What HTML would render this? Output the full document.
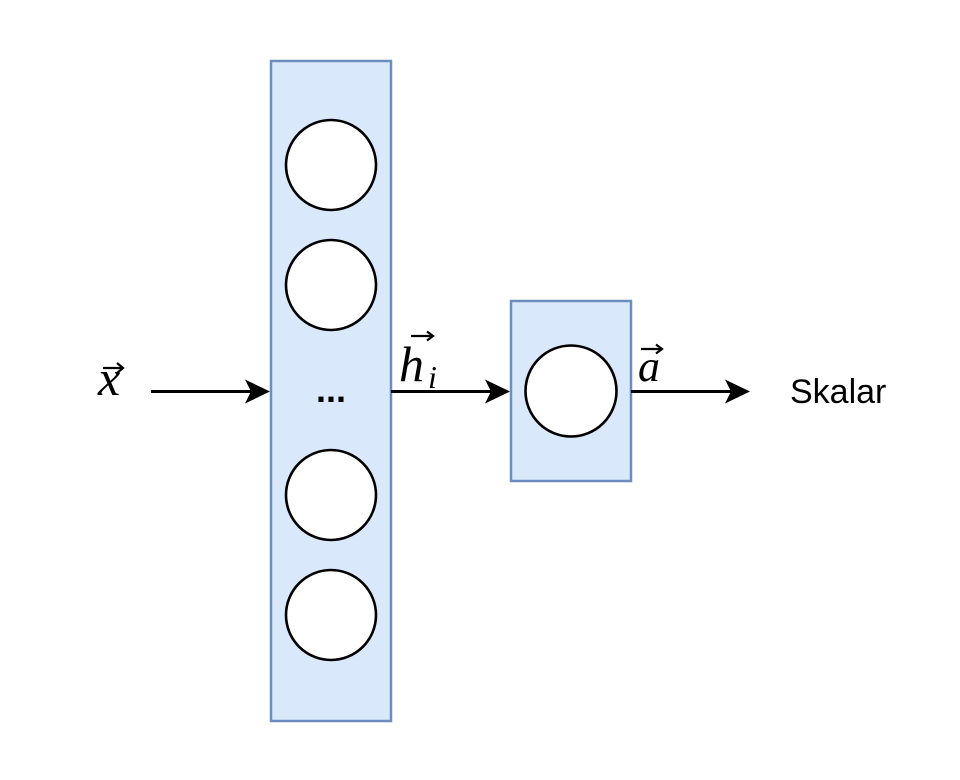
<!DOCTYPE html>
<html>
<head>
<meta charset="utf-8">
<style>
html,body{margin:0;padding:0;background:#fff;}
svg{display:block;}
</style>
</head>
<body>
<svg width="960" height="780" viewBox="0 0 960 780" xmlns="http://www.w3.org/2000/svg">
  <rect x="0" y="0" width="960" height="780" fill="#ffffff"/>
  <!-- big layer -->
  <rect x="271" y="61" width="120" height="660" fill="#dae8fc" stroke="#6c8ebf" stroke-width="2.5"/>
  <circle cx="331" cy="165" r="45" fill="#fff" stroke="#000" stroke-width="2.6"/>
  <circle cx="331" cy="285" r="45" fill="#fff" stroke="#000" stroke-width="2.6"/>
  <circle cx="331" cy="495" r="45" fill="#fff" stroke="#000" stroke-width="2.6"/>
  <circle cx="331" cy="615" r="45" fill="#fff" stroke="#000" stroke-width="2.6"/>
  <text x="331" y="402" text-anchor="middle" font-family="Liberation Sans, sans-serif" font-size="36" font-weight="bold" fill="#000">...</text>

  <!-- small layer -->
  <rect x="511" y="301" width="120" height="180" fill="#dae8fc" stroke="#6c8ebf" stroke-width="2.5"/>
  <circle cx="571" cy="391" r="45.5" fill="#fff" stroke="#000" stroke-width="2.6"/>

  <!-- arrows -->
  <line x1="151" y1="391.5" x2="252" y2="391.5" stroke="#000" stroke-width="3"/>
  <polygon points="270,391.5 245,379.5 251,391.5 245,403.5" fill="#000"/>
  <line x1="391" y1="391.5" x2="492" y2="391.5" stroke="#000" stroke-width="3"/>
  <polygon points="510,391.5 485,379.5 491,391.5 485,403.5" fill="#000"/>
  <line x1="631" y1="391.5" x2="732" y2="391.5" stroke="#000" stroke-width="3"/>
  <polygon points="750,391.5 725,379.5 731,391.5 725,403.5" fill="#000"/>

  <!-- labels -->
  <!-- x vector -->
  <text x="98" y="395" font-family="Liberation Serif, serif" font-style="italic" font-size="50" fill="#000">x</text>
  <line x1="103" y1="368" x2="122" y2="368" stroke="#000" stroke-width="2.2"/>
  <polyline points="117,363 123,368 117,373" fill="none" stroke="#000" stroke-width="2.2"/>

  <!-- h_i -->
  <text x="399" y="381" font-family="Liberation Serif, serif" font-style="italic" font-size="50" fill="#000">h</text>
  <text x="428" y="388" font-family="Liberation Serif, serif" font-style="italic" font-size="32" fill="#000">i</text>
  <line x1="411" y1="336" x2="432" y2="336" stroke="#000" stroke-width="2.2"/>
  <polyline points="427,331.5 433,336 427,340.5" fill="none" stroke="#000" stroke-width="2.2"/>

  <!-- a vector -->
  <text x="638" y="381" font-family="Liberation Serif, serif" font-style="italic" font-size="44" fill="#000">a</text>
  <line x1="641" y1="349" x2="661" y2="349" stroke="#000" stroke-width="2.2"/>
  <polyline points="656,344.5 662,349 656,353.5" fill="none" stroke="#000" stroke-width="2.2"/>

  <!-- Skalar -->
  <text x="790" y="403" font-family="Liberation Sans, sans-serif" font-size="34" fill="#000">Skalar</text>
</svg>
</body>
</html>
